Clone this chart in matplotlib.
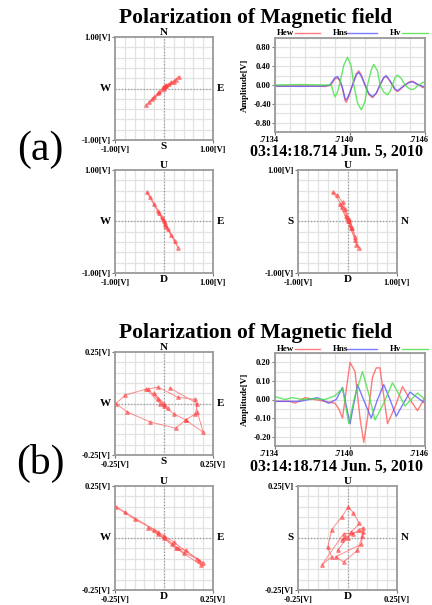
import numpy as np
import matplotlib.pyplot as plt
from matplotlib.lines import Line2D
from matplotlib.transforms import ScaledTranslation

plt.rcParams['font.family'] = ['Liberation Serif', 'DejaVu Serif']
plt.rcParams['font.weight'] = 'bold'

# ---------------- data ----------------
# waveform (a)
t_hew_a = [.7134, .7136, .7138, .71384, .71386, .71388, .71390, .71392, .71394, .71396, .71397, .71399,
           .71402, .71405, .71407, .71409, .71412, .71415, .71418, .71421, .71424, .71427, .71429,
           .71431, .71434, .71436, .71438, .71440, .71444, .71447, .71450, .71452, .71455, .71458, .7146]
hew_a = [-0.03, -0.02, -0.03, -0.01, 0.05, 0.13, 0.15, 0.08, -0.08, -0.33, -0.37, -0.25,
         0.0, 0.24, 0.30, 0.22, 0.0, -0.20, -0.27, -0.18, 0.0, 0.15, 0.18,
         0.12, 0.0, -0.10, -0.14, -0.10, 0.0, 0.06, 0.08, 0.05, 0.0, -0.05, -0.06]
t_hns_a = [.7134, .7136, .7138, .71384, .71386, .71388, .71390, .71392, .71394, .71396, .71397, .71399,
           .71402, .71405, .71407, .71409, .71412, .71415, .71418, .71421, .71424, .71427, .71429,
           .71431, .71434, .71436, .71438, .71440, .71444, .71447, .71450, .71452, .71455, .71458, .7146]
hns_a = [-0.02, -0.03, -0.02, 0.0, 0.08, 0.16, 0.18, 0.10, -0.06, -0.28, -0.32, -0.22,
         0.0, 0.21, 0.27, 0.19, 0.0, -0.18, -0.25, -0.17, 0.0, 0.16, 0.20,
         0.13, 0.0, -0.09, -0.12, -0.08, 0.0, 0.05, 0.07, 0.04, 0.0, -0.03, -0.04]
t_hv_a = [.7134, .7136, .7138, .71385, .71387, .71388, .71390, .71392, .71395, .71398, .71401, .71403,
          .71406, .71409, .71412, .71414, .71417, .71419, .71422, .71424, .71427, .71430, .71432,
          .71434, .71436, .71438, .71441, .71444, .71447, .71450, .71452, .71455, .71458, .7146]
hv_a = [0.0, 0.01, 0.0, 0.0, -0.18, -0.25, -0.15, 0.05, 0.42, 0.59, 0.40, 0.0,
        -0.38, -0.53, -0.35, 0.0, 0.32, 0.44, 0.30, 0.0, -0.15, -0.21, -0.14,
        0.0, 0.15, 0.21, 0.14, 0.0, -0.07, -0.10, -0.07, 0.0, 0.05, 0.07]

# waveform (b)
t_hew_b = [.7134, .71352, .71356, .71364, .71372, .7138, .71388, .71391, .71394, .71397, .714, .71404,
           .71408, .71411, .71414, .71418, .71421, .71424, .71427, .7143, .71436, .71442, .71448,
           .71454, .7146]
hew_b = [-0.01, -0.01, -0.02, 0.01, 0.0, -0.01, -0.02, -0.05, -0.10, 0.05, 0.20, 0.15,
         -0.10, -0.23, -0.10, 0.12, 0.17, 0.17, 0.02, -0.13, -0.04, 0.07, 0.0,
         -0.06, 0.01]
t_hns_b = [.7134, .7136, .71374, .71383, .71389, .71394, .714, .71406, .71412, .71417, .71422,
           .71427, .71432, .71437, .71442, .71448, .71454, .7146]
hns_b = [-0.01, -0.01, 0.01, -0.02, 0.0, 0.065, -0.13, 0.08, -0.02, -0.10, 0.0,
         0.08, 0.0, -0.09, -0.03, 0.04, 0.01, -0.02]
t_hv_b = [.7134, .71348, .71354, .71362, .7137, .7138, .71388, .71394, .71399, .71404, .7141,
          .71415, .7142, .71427, .71434, .71439, .71444, .71449, .71454, .7146]
hv_b = [0.015, 0.0, 0.01, 0.0, 0.005, 0.0, 0.02, 0.06, -0.13, 0.02, 0.15,
        0.03, -0.11, -0.02, 0.09, 0.03, -0.035, 0.0, 0.035, 0.0]

# hodograms (a)
a_ewns_x = [0.00, 0.05, -0.02, 0.10, -0.10, 0.20, -0.20, 0.30, -0.30, 0.25, -0.37, 0.15, -0.25, 0.05, -0.12, 0.02, 0.00]
a_ewns_y = [0.00, 0.04, 0.03, 0.09, -0.07, 0.13, -0.16, 0.23, -0.26, 0.17, -0.33, 0.12, -0.20, 0.07, -0.09, 0.04, 0.03]
a_ewud_x = [0.00, 0.03, -0.04, 0.08, -0.10, 0.15, -0.20, 0.29, -0.35, -0.28, 0.22, -0.12, 0.05, -0.03, 0.02]
a_ewud_y = [0.00, -0.07, 0.08, -0.15, 0.17, -0.27, 0.34, -0.51, 0.57, 0.48, -0.38, 0.21, -0.10, 0.04, -0.02]
a_snud_x = [0.02, 0.06, -0.04, 0.10, -0.12, 0.16, 0.24, 0.18, -0.06, -0.30, -0.22, -0.10, 0.04, 0.16, 0.08, -0.16, -0.02, 0.04]
a_snud_y = [0.00, -0.06, 0.10, -0.12, 0.28, -0.35, -0.51, -0.45, 0.25, 0.57, 0.52, 0.38, 0.04, -0.30, -0.12, 0.34, 0.06, 0.00]

# hodograms (b)
b_ewns_x = [0.00, -0.03, 0.02, -0.05, 0.00, -0.08, -0.03, 0.07, 0.16, 0.17, 0.20, 0.11, 0.06, -0.07,
            -0.19, -0.245, -0.20, -0.09, -0.02, 0.05, 0.11, 0.16, 0.17, 0.03]
b_ewns_y = [0.00, 0.02, -0.02, 0.05, -0.01, 0.07, 0.08, 0.03, 0.02, -0.04, -0.14, -0.08, -0.12, -0.09,
            -0.04, 0.00, 0.04, 0.07, 0.00, -0.05, -0.08, -0.05, 0.00, 0.075]
b_ewud_x = [0.00, -0.03, 0.04, -0.08, 0.07, 0.11, 0.20, 0.17, 0.10, -0.05, -0.20, -0.245, -0.15, -0.03, 0.05, 0.18, 0.19, 0.06, 0.00]
b_ewud_y = [0.00, 0.02, -0.03, 0.05, -0.05, -0.06, -0.12, -0.10, -0.07, 0.04, 0.125, 0.15, 0.09, 0.03, -0.02, -0.11, -0.13, -0.05, 0.01]
b_snud_x = [0.00, -0.02, 0.03, -0.03, 0.06, 0.08, 0.075, 0.05, -0.02, -0.06, 0.07, 0.08, -0.02, -0.13,
            -0.08, -0.10, -0.08, -0.03, 0.005, 0.03, 0.06, 0.02, -0.05]
b_snud_y = [0.00, 0.00, 0.02, -0.01, 0.04, 0.05, 0.01, -0.06, -0.115, -0.09, -0.03, 0.03, 0.02, -0.13,
            -0.09, -0.045, 0.04, 0.10, 0.15, 0.12, 0.07, 0.03, -0.06]

title = "Polarization of Magnetic field"
stamp = "03:14:18.714 Jun. 5, 2010"
t_ticks = [.7134, .7140, .7146]
t_labels = [".7134", ".7140", ".7146"]

# ---------------- drawing ----------------
W, H = 432, 605
fig = plt.figure(figsize=(W / 100, H / 100), dpi=100)


def box(x0, y0, x1, y1):
    return [x0 / W, 1 - y1 / H, (x1 - x0) / W, (y1 - y0) / H]


def style_spines(ax):
    for s in ax.spines.values():
        s.set_color('#9a9a9a')
        s.set_linewidth(1.3)
    ax.tick_params(length=2, width=0.8, color='#777777', labelsize=6, pad=1)


def hodogram(rect, xs, ys, lim, top, bottom, left, right):
    ax = fig.add_axes(rect)
    ax.set_xlim(-lim, lim)
    ax.set_ylim(-lim, lim)
    ax.set_xticks(np.linspace(-lim, lim, 11), minor=True)
    ax.set_yticks(np.linspace(-lim, lim, 11), minor=True)
    ax.grid(which='minor', color='#e2e2e2', lw=0.9)
    ax.tick_params(which='minor', length=0)
    ax.axhline(0, color='#999999', ls=(0, (1, 1.5)), lw=0.9)
    ax.axvline(0, color='#999999', ls=(0, (1, 1.5)), lw=0.9)
    ax.plot(xs, ys, color='#ff2020', lw=0.7, alpha=0.5, marker='^', ms=2.6,
            mfc='#ff4040', mec='#ff4040')
    ax.set_xticks([-lim, lim])
    ax.set_yticks([-lim, lim])
    ax.set_xticklabels([f"{-lim:.2f}[V]", f"{lim:.2f}[V]"])
    ax.set_yticklabels([f"{-lim:.2f}[V]", f"{lim:.2f}[V]"])
    style_spines(ax)
    ax.tick_params(axis='x', pad=2)
    kw = dict(transform=ax.transAxes, fontsize=8, fontweight='bold')
    ax.text(0.5, 1.0, top, ha='center', va='bottom', **kw)
    ax.text(0.5, -0.02, bottom, ha='center', va='top', **kw)
    ax.text(-0.04, 0.5, left, ha='right', va='center', **kw)
    ax.text(1.04, 0.5, right, ha='left', va='center', **kw)


def waveform(rect, series, lim, yticks, leg_y):
    ax = fig.add_axes(rect)
    for t, v, c in series:
        ax.plot(t, v, color=c, lw=1.0, alpha=0.8)
    ax.set_xlim(t_ticks[0], t_ticks[-1])
    ax.set_ylim(-lim, lim)
    ax.set_xticks(t_ticks)
    ax.set_xticklabels(t_labels)
    ax.set_xticks(np.linspace(t_ticks[0], t_ticks[-1], 11), minor=True)
    ax.set_yticks(yticks)
    ax.set_yticklabels([f"{v:.2f}" for v in yticks])
    ax.set_yticks(np.linspace(-lim, lim, 11), minor=True)
    ax.grid(which='both', color='#e2e2e2', lw=0.9)
    ax.tick_params(which='minor', length=0)
    style_spines(ax)
    shift = ScaledTranslation(4 / 100, 0, fig.dpi_scale_trans)
    for lab in ax.get_xticklabels():
        lab.set_horizontalalignment('right')
        lab.set_transform(lab.get_transform() + shift)
    ax.set_ylabel("Amplitude[V]", fontsize=6.5, fontweight='bold', labelpad=3)
    names = ["Hew", "Hns", "Hv"]
    text_x = [0.013, 0.387, 0.767]
    line_x = [(0.133, 0.30), (0.48, 0.68), (0.847, 1.02)]
    for name, tx, (l0, l1), (_, _, c) in zip(names, text_x, line_x, series):
        ax.text(tx, leg_y, name, transform=ax.transAxes, fontsize=6.5,
                fontweight='bold', ha='left', va='center')
        ax.add_line(Line2D([l0, l1], [leg_y, leg_y], transform=ax.transAxes,
                           color=c, lw=1.0, alpha=0.8, clip_on=False))


red, blue, green = '#ff5a5a', '#5a5aff', '#44e044'

# panel (a)
fig.text(256 / W, 1 - 18 / H, title, ha='center', va='center', fontsize=15.5, fontweight='bold')
hodogram(box(115, 37, 213, 140), a_ewns_x, a_ewns_y, 1.0, 'N', 'S', 'W', 'E')
waveform(box(275, 38, 425, 132),
         [(t_hew_a, hew_a, red), (t_hns_a, hns_a, blue), (t_hv_a, hv_a, green)],
         1.0, [-0.8, -0.4, 0.0, 0.4, 0.8], 1 + 5 / 94)
fig.text(337 / W, 1 - 152 / H, stamp, ha='center', va='center', fontsize=11.5, fontweight='bold')
hodogram(box(115, 170, 213, 273), a_ewud_x, a_ewud_y, 1.0, 'U', 'D', 'W', 'E')
hodogram(box(298, 170, 397, 273), a_snud_x, a_snud_y, 1.0, 'U', 'D', 'S', 'N')
fig.text(40 / W, 1 - 150 / H, "(a)", ha='center', va='center', fontsize=30, fontweight='normal')

# panel (b)
fig.text(256 / W, 1 - 333 / H, title, ha='center', va='center', fontsize=15.5, fontweight='bold')
hodogram(box(115, 352, 213, 455), b_ewns_x, b_ewns_y, 0.25, 'N', 'S', 'W', 'E')
waveform(box(275, 353, 425, 446),
         [(t_hew_b, hew_b, red), (t_hns_b, hns_b, blue), (t_hv_b, hv_b, green)],
         0.25, [-0.2, -0.1, 0.0, 0.1, 0.2], 1 + 4 / 93)
fig.text(337 / W, 1 - 467 / H, stamp, ha='center', va='center', fontsize=11.5, fontweight='bold')
hodogram(box(115, 486, 213, 590), b_ewud_x, b_ewud_y, 0.25, 'U', 'D', 'W', 'E')
hodogram(box(298, 486, 397, 590), b_snud_x, b_snud_y, 0.25, 'U', 'D', 'S', 'N')
fig.text(40 / W, 1 - 463 / H, "(b)", ha='center', va='center', fontsize=30, fontweight='normal')

fig.savefig("out.png", dpi=100)
